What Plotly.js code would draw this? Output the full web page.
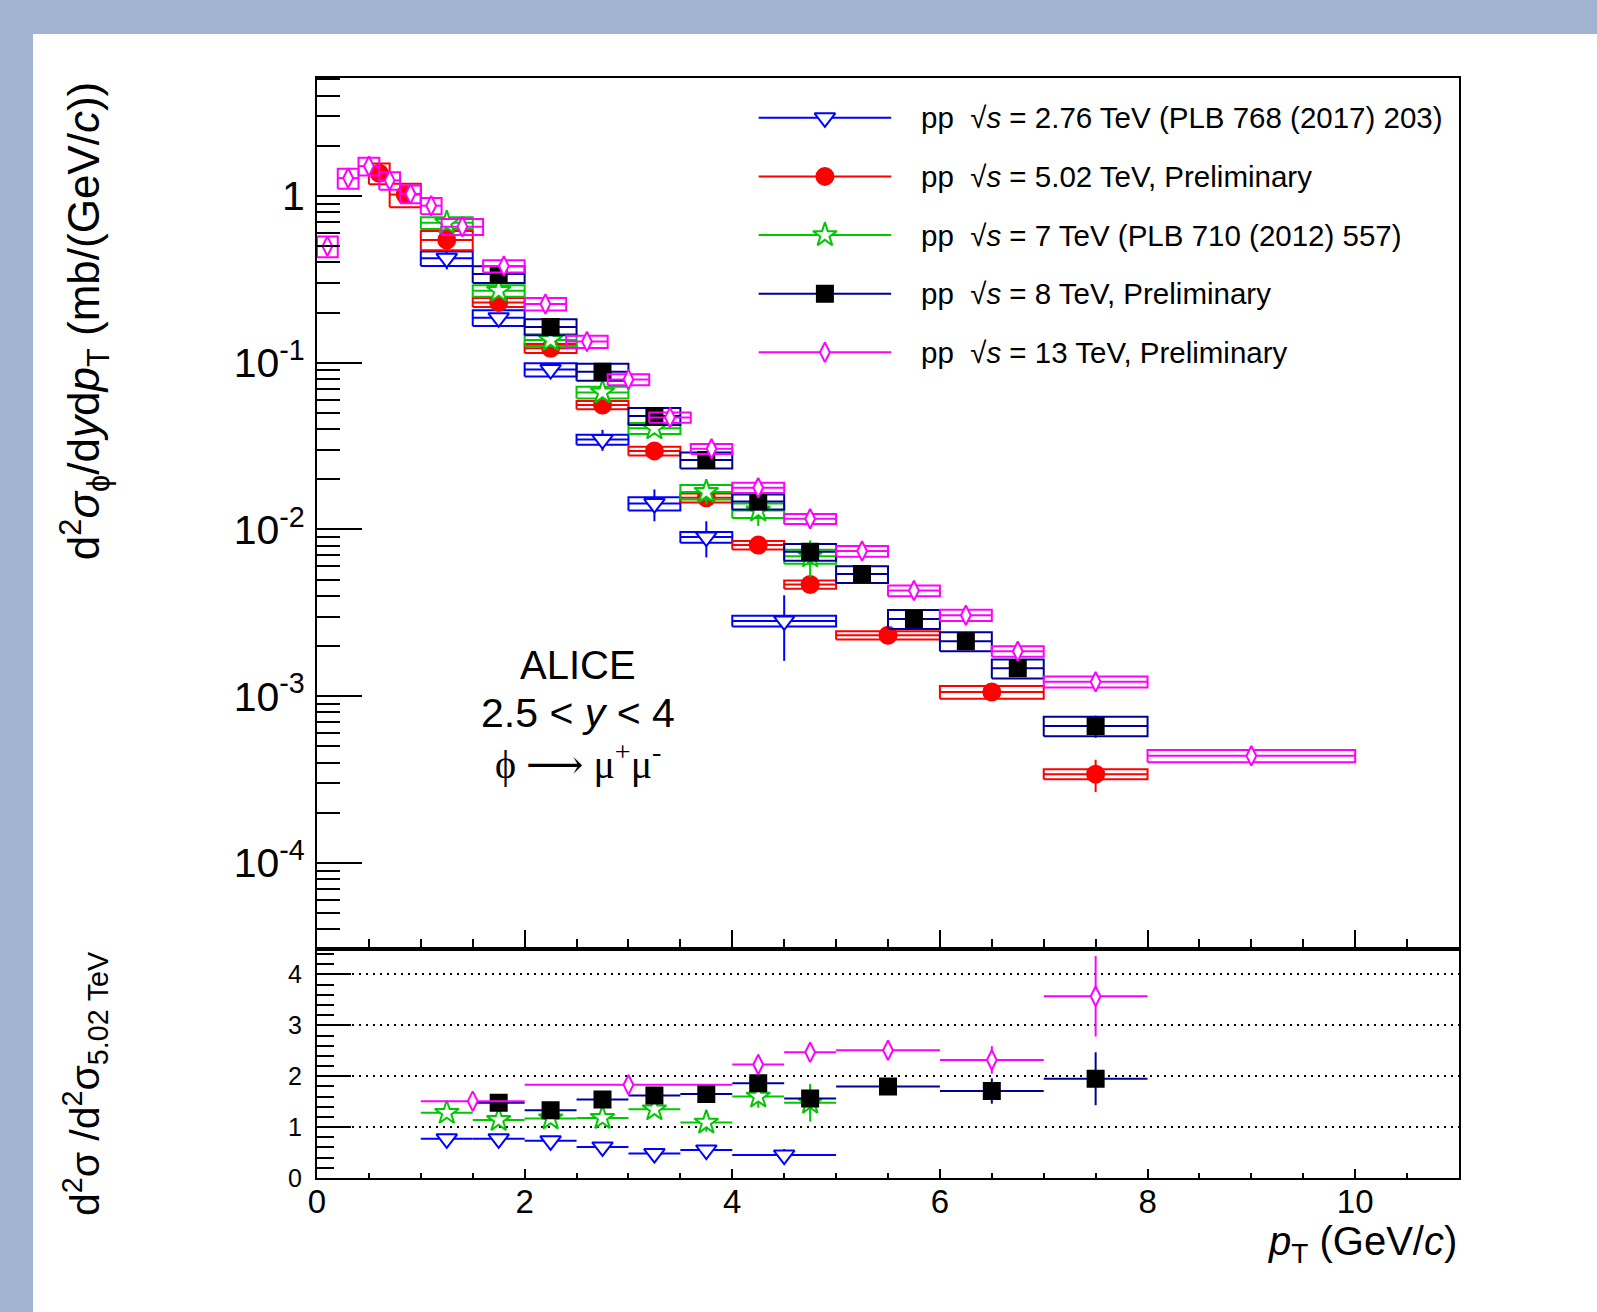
<!DOCTYPE html>
<html>
<head>
<meta charset="utf-8">
<script src="https://cdn.plot.ly/plotly-3.0.1.min.js"></script>
<style>
html,body{margin:0;padding:0;background:#a0b4d2;}
#chart{width:1597px;height:1312px;}
</style>
</head>
<body>
<div id="chart"></div>
<script>
// ---------------- DATA ----------------
// pp 2.76 TeV
const lo276 = [1.0, 1.5, 2.0, 2.5, 3.0, 3.5, 4.0];
const hi276 = [1.5, 2.0, 2.5, 3.0, 3.5, 4.0, 5.0];
const y276 = [0.423, 0.186, 0.091, 0.0346, 0.0143, 0.0090, 0.00283];
const stat276 = [0.06, 0.012, 0.006, 0.005, 0.0031, 0.0022, 0.0012];
const sys276 = [0.10, 0.108, 0.09, 0.069, 0.092, 0.074, 0.074];

// pp 5.02 TeV
const lo502 = [0.5, 0.7, 1.0, 1.5, 2.0, 2.5, 3.0, 3.5, 4.0, 4.5, 5.0, 6.0, 7.0];
const hi502 = [0.7, 1.0, 1.5, 2.0, 2.5, 3.0, 3.5, 4.0, 4.5, 5.0, 6.0, 7.0, 8.0];
const y502 = [1.37, 1.02, 0.545, 0.23, 0.122, 0.0557, 0.0296, 0.0155, 0.00806, 0.00468, 0.00232, 0.00106, 0.000341];
const stat502 = [0.04, 0.03, 0.015, 0.006, 0.003, 0.0014, 0.0008, 0.0005, 0.0003, 0.0002, 0.0001, 0.00006, 0.000075];
const sys502 = [0.143, 0.16, 0.133, 0.062, 0.062, 0.057, 0.06, 0.062, 0.06, 0.057, 0.057, 0.088, 0.069];

// pp 7 TeV
const lo7 = [1.0, 1.5, 2.0, 2.5, 3.0, 3.5, 4.0, 4.5];
const hi7 = [1.5, 2.0, 2.5, 3.0, 3.5, 4.0, 4.5, 5.0];
const y7 = [0.69, 0.27, 0.137, 0.0664, 0.0404, 0.0168, 0.013, 0.0069];
const stat7 = [0.02, 0.008, 0.004, 0.002, 0.0015, 0.0027, 0.0025, 0.0017];
const sys7 = [0.08, 0.08, 0.08, 0.08, 0.076, 0.099, 0.1, 0.097];

// pp 8 TeV
const lo8 = [1.5, 2.0, 2.5, 3.0, 3.5, 4.0, 4.5, 5.0, 5.5, 6.0, 6.5, 7.0];
const hi8 = [2.0, 2.5, 3.0, 3.5, 4.0, 4.5, 5.0, 5.5, 6.0, 6.5, 7.0, 8.0];
const y8 = [0.34, 0.164, 0.0883, 0.0479, 0.0261, 0.0147, 0.00735, 0.0054, 0.00291, 0.00214, 0.00147, 0.000664];
const stat8 = [0.01, 0.004, 0.002, 0.0012, 0.0007, 0.0004, 0.0002, 0.00015, 0.0001, 0.00008, 0.00015, 0.0001];
const sys8 = [0.115, 0.11, 0.117, 0.117, 0.11, 0.103, 0.115, 0.115, 0.129, 0.129, 0.131, 0.133];

// pp 13 TeV
const lo13 = [0.0, 0.2, 0.4, 0.6, 0.8, 1.0, 1.2, 1.6, 2.0, 2.4, 2.8, 3.2, 3.6, 4.0, 4.5, 5.0, 5.5, 6.0, 6.5, 7.0, 8.0];
const hi13 = [0.2, 0.4, 0.6, 0.8, 1.0, 1.2, 1.6, 2.0, 2.4, 2.8, 3.2, 3.6, 4.0, 4.5, 5.0, 5.5, 6.0, 6.5, 7.0, 8.0, 10.0];
const y13 = [0.50, 1.28, 1.51, 1.24, 1.03, 0.875, 0.655, 0.38, 0.225, 0.134, 0.0794, 0.047, 0.0305, 0.0178, 0.0116, 0.00742, 0.0043, 0.00306, 0.00186, 0.00122, 0.000439];
const stat13 = [0.01, 0.02, 0.02, 0.02, 0.015, 0.012, 0.008, 0.005, 0.003, 0.002, 0.0012, 0.0008, 0.0005, 0.0003, 0.0002, 0.00014, 0.0001, 0.00007, 0.00005, 0.00004, 0.00002];
const sys13 = [0.143, 0.138, 0.122, 0.12, 0.122, 0.112, 0.11, 0.085, 0.085, 0.085, 0.076, 0.071, 0.069, 0.071, 0.069, 0.074, 0.074, 0.078, 0.074, 0.076, 0.085];

// Ratios to 5.02 TeV
const rLo276 = [1.0, 1.5, 2.0, 2.5, 3.0, 3.5, 4.0];
const rHi276 = [1.5, 2.0, 2.5, 3.0, 3.5, 4.0, 5.0];
const r276 = [0.77, 0.77, 0.73, 0.61, 0.48, 0.55, 0.45];
const rErr276 = [0.04, 0.04, 0.04, 0.05, 0.07, 0.09, 0.12];

const rLo7 = [1.0, 1.5, 2.0, 2.5, 3.0, 3.5, 4.0, 4.5];
const rHi7 = [1.5, 2.0, 2.5, 3.0, 3.5, 4.0, 4.5, 5.0];
const r7 = [1.28, 1.14, 1.17, 1.18, 1.35, 1.09, 1.60, 1.48];
const rErr7 = [0.05, 0.05, 0.06, 0.07, 0.1, 0.18, 0.22, 0.37];

const rLo8 = [1.5, 2.0, 2.5, 3.0, 3.5, 4.0, 4.5, 5.0, 6.0, 7.0];
const rHi8 = [2.0, 2.5, 3.0, 3.5, 4.0, 4.5, 5.0, 6.0, 7.0, 8.0];
const r8 = [1.48, 1.33, 1.54, 1.62, 1.65, 1.86, 1.56, 1.80, 1.71, 1.95];
const rErr8 = [0.05, 0.05, 0.06, 0.07, 0.08, 0.1, 0.12, 0.12, 0.25, 0.52];

const rLo13 = [1.0, 2.0, 4.0, 4.5, 5.0, 6.0, 7.0];
const rHi13 = [2.0, 4.0, 4.5, 5.0, 6.0, 7.0, 8.0];
const r13 = [1.51, 1.83, 2.23, 2.47, 2.51, 2.32, 3.57];
const rErr13 = [0.03, 0.05, 0.1, 0.12, 0.12, 0.27, 0.79];

// Tick labels
const yTickVals = [1e-4, 1e-3, 1e-2, 1e-1, 1];
const yTickText = ['10<sup>-4</sup>', '10<sup>-3</sup>', '10<sup>-2</sup>', '10<sup>-1</sup>', '1'];
const xTickVals = [0, 2, 4, 6, 8, 10];
const rTickVals = [0, 1, 2, 3, 4];

const legendLabels = [
  'pp  √<i>s</i> = 2.76 TeV (PLB 768 (2017) 203)',
  'pp  √<i>s</i> = 5.02 TeV, Preliminary',
  'pp  √<i>s</i> = 7 TeV (PLB 710 (2012) 557)',
  'pp  √<i>s</i> = 8 TeV, Preliminary',
  'pp  √<i>s</i> = 13 TeV, Preliminary'
];

// ---------------- STYLES ----------------
const FONT = '"Liberation Sans", Arial, Helvetica, sans-serif';
const series = [
  {lo: lo276, hi: hi276, y: y276, stat: stat276, sys: sys276,
   rlo: rLo276, rhi: rHi276, r: r276, rerr: rErr276,
   line: '#0000ff', mcolor: 'white', mline: '#0000ff', symbol: 'triangle-down', size: 18},
  {lo: lo502, hi: hi502, y: y502, stat: stat502, sys: sys502,
   line: '#ff0000', mcolor: '#ff0000', mline: '#ff0000', symbol: 'circle', size: 17},
  {lo: lo7, hi: hi7, y: y7, stat: stat7, sys: sys7,
   rlo: rLo7, rhi: rHi7, r: r7, rerr: rErr7,
   line: '#00c800', mcolor: 'white', mline: '#00c800', symbol: 'star', size: 18},
  {lo: lo8, hi: hi8, y: y8, stat: stat8, sys: sys8,
   rlo: rLo8, rhi: rHi8, r: r8, rerr: rErr8,
   line: '#000099', mcolor: 'black', mline: 'black', symbol: 'square', size: 16},
  {lo: lo13, hi: hi13, y: y13, stat: stat13, sys: sys13,
   rlo: rLo13, rhi: rHi13, r: r13, rerr: rErr13,
   line: '#ff00ff', mcolor: 'white', mline: '#ff00ff', symbol: 'diamond-tall', size: 14}
];

const mid = (lo, hi) => lo.map((v, i) => (v + hi[i]) / 2);
const half = (lo, hi) => lo.map((v, i) => (hi[i] - v) / 2);

function boxes(lo, hi, y, sys) {
  const xs = [], ys = [];
  lo.forEach((l, i) => {
    const h = hi[i], yl = y[i] * (1 - sys[i]), yh = y[i] * (1 + sys[i]);
    xs.push(l, h, h, l, l, null);
    ys.push(yl, yl, yh, yh, yl, null);
  });
  return {xs, ys};
}

const traces = [];
series.forEach(s => {
  const b = boxes(s.lo, s.hi, s.y, s.sys);
  traces.push({
    type: 'scatter', mode: 'lines', x: b.xs, y: b.ys, xaxis: 'x2', yaxis: 'y2',
    line: {color: s.line, width: 2}, hoverinfo: 'skip', showlegend: false
  });
  traces.push({
    type: 'scatter', mode: 'markers', x: mid(s.lo, s.hi), y: s.y, xaxis: 'x2', yaxis: 'y2',
    marker: {symbol: s.symbol, size: s.size, color: s.mcolor, line: {color: s.mline, width: 2}},
    error_x: {type: 'data', array: half(s.lo, s.hi), symmetric: true, width: 0, thickness: 2, color: s.line},
    error_y: {type: 'data', array: s.stat, symmetric: true, width: 0, thickness: 2, color: s.line},
    showlegend: false, cliponaxis: true
  });
});

series.forEach(s => {
  if (!s.r) return;
  traces.push({
    type: 'scatter', mode: 'markers', x: mid(s.rlo, s.rhi), y: s.r, xaxis: 'x', yaxis: 'y',
    marker: {symbol: s.symbol, size: s.size, color: s.mcolor, line: {color: s.mline, width: 2}},
    error_x: {type: 'data', array: half(s.rlo, s.rhi), symmetric: true, width: 0, thickness: 2, color: s.line},
    error_y: {type: 'data', array: s.rerr, symmetric: true, width: 0, thickness: 2, color: s.line},
    showlegend: false
  });
});

// Legend samples (drawn on a hidden helper axis)
series.forEach((s, k) => {
  traces.push({
    type: 'scatter', mode: 'lines', x: [0, 1], y: [k, k], xaxis: 'x3', yaxis: 'y3',
    line: {color: s.line, width: 2}, hoverinfo: 'skip', showlegend: false
  });
  traces.push({
    type: 'scatter', mode: 'markers', x: [0.5], y: [k], xaxis: 'x3', yaxis: 'y3',
    marker: {symbol: s.symbol, size: s.size, color: s.mcolor, line: {color: s.mline, width: 2}},
    hoverinfo: 'skip', showlegend: false, cliponaxis: false
  });
});

// minor log ticks
const minorLog = [];
for (let e = -5; e <= 0; e++) {
  for (let m = 2; m <= 9; m++) minorLog.push(m * Math.pow(10, e));
}

const annotations = [];
legendLabels.forEach((t, k) => {
  annotations.push({
    xref: 'paper', yref: 'y3', x: 0.527, y: k, xanchor: 'left', yanchor: 'middle',
    text: t, showarrow: false, font: {family: FONT, size: 29.5, color: 'black'}
  });
});
annotations.push(
  {xref: 'paper', yref: 'paper', x: 0.2285, y: 0.4664, xanchor: 'center', yanchor: 'middle',
   text: 'ALICE', showarrow: false, font: {family: FONT, size: 40, color: 'black'}},
  {xref: 'paper', yref: 'paper', x: 0.2285, y: 0.4227, xanchor: 'center', yanchor: 'middle',
   text: '2.5 &lt; <i>y</i> &lt; 4', showarrow: false, font: {family: FONT, size: 41, color: 'black'}},
  {xref: 'paper', yref: 'paper', x: 0.2285, y: 0.3782, xanchor: 'center', yanchor: 'middle',
   text: 'ϕ ⟶ μ<sup>+</sup>μ<sup>-</sup>', showarrow: false,
   font: {family: '"Liberation Serif", "DejaVu Serif", serif', size: 40, color: 'black'}},
  {xref: 'paper', yref: 'paper', x: -0.2040, y: 0.779, xanchor: 'center', yanchor: 'middle', textangle: -90,
   text: 'd<sup>2</sup><i>σ</i><sub>ϕ</sub>/d<i>y</i>d<i>p</i><sub>T</sub> (mb/(GeV/<i>c</i>))',
   showarrow: false, font: {family: FONT, size: 44, color: 'black'}},
  {xref: 'paper', yref: 'paper', x: -0.2030, y: 0.0855, xanchor: 'center', yanchor: 'middle', textangle: -90,
   text: 'd<sup>2</sup>σ /d<sup>2</sup>σ<sub>5.02 TeV</sub>',
   showarrow: false, font: {family: FONT, size: 41, color: 'black'}},
  {xref: 'paper', yref: 'paper', x: 1.0, y: -0.0600, xanchor: 'right', yanchor: 'middle',
   text: '<i>p</i><sub>T</sub> (GeV/<i>c</i>)', showarrow: false, font: {family: FONT, size: 40, color: 'black'}}
);

const axisCommon = {
  showline: true, linecolor: 'black', linewidth: 2, mirror: true,
  ticks: 'inside', tickcolor: 'black', tickwidth: 2, zeroline: false, showgrid: false
};

const layout = {
  width: 1597, height: 1312, autosize: false,
  margin: {l: 317, r: 138, t: 78, b: 134, pad: 0},
  paper_bgcolor: '#a0b4d2', plot_bgcolor: 'white',
  font: {family: FONT, color: 'black'},
  showlegend: false,
  xaxis: Object.assign({}, axisCommon, {
    domain: [0, 1], anchor: 'y', range: [0, 11],
    tickmode: 'array', tickvals: xTickVals, ticklen: 9, ticklabelstandoff: -7,
    minor: {dtick: 0.5, tick0: 0, ticklen: 5, tickwidth: 2, ticks: 'inside', tickcolor: 'black'},
    tickfont: {family: FONT, size: 33, color: 'black'}
  }),
  xaxis2: Object.assign({}, axisCommon, {
    domain: [0, 1], anchor: 'y2', matches: 'x', range: [0, 11], showticklabels: false,
    tickmode: 'array', tickvals: xTickVals, ticklen: 19,
    minor: {dtick: 0.5, tick0: 0, ticklen: 10, tickwidth: 2, ticks: 'inside', tickcolor: 'black'}
  }),
  yaxis: Object.assign({}, axisCommon, {
    domain: [0, 0.2082], anchor: 'x', range: [0, 4.5],
    tickmode: 'array', tickvals: rTickVals, ticklen: 34, ticklabelstandoff: 8,
    minor: {dtick: 0.2, tick0: 0, ticklen: 17, tickwidth: 2, ticks: 'inside', tickcolor: 'black'},
    showgrid: true, gridcolor: 'black', gridwidth: 2, griddash: '2px,5px',
    tickfont: {family: FONT, size: 25, color: 'black'}
  }),
  yaxis2: Object.assign({}, axisCommon, {
    domain: [0.2082, 1], anchor: 'x2', type: 'log',
    range: [Math.log10(3.05e-5), Math.log10(5.1)],
    tickmode: 'array', tickvals: yTickVals, ticktext: yTickText, ticklen: 45, ticklabelstandoff: 2,
    minor: {tickmode: 'array', tickvals: minorLog, ticklen: 23, tickwidth: 2, ticks: 'inside', tickcolor: 'black'},
    tickfont: {family: FONT, size: 41, color: 'black'}
  }),
  xaxis3: {domain: [0.3865, 0.503], anchor: 'y3', range: [0, 1], visible: false, fixedrange: true},
  yaxis3: {domain: [0.724, 0.9905], anchor: 'x3', range: [4.5, -0.5], visible: false, fixedrange: true},
  shapes: [
    {type: 'rect', xref: 'paper', yref: 'paper', x0: -0.2487, x1: 1.1208, y0: -0.1218, y1: 1.04,
     fillcolor: 'white', line: {width: 0}, layer: 'below'}
  ],
  annotations: annotations
};

Plotly.newPlot('chart', traces, layout, {staticPlot: true, displayModeBar: false});
</script>
</body>
</html>
